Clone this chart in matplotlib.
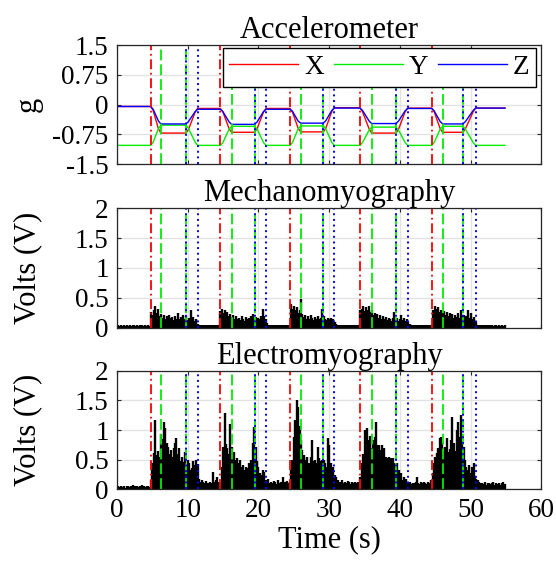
import numpy as np
import matplotlib.pyplot as plt

plt.rcParams['font.family'] = ['Liberation Serif', 'DejaVu Serif']
plt.rcParams['font.size'] = 19.5

# event markers in seconds
move_onsets = [4.76, 14.62, 24.45, 34.35, 44.48]
hold_marks = [6.22, 9.75, 16.2, 19.45, 25.96, 29.16, 36.0, 39.43, 46.03, 48.9]
return_marks = [9.75, 11.4, 19.45, 21.06, 29.16, 30.72, 39.43, 41.08, 48.9, 50.7]

# accelerometer key samples (g)
acc_t = [0.0,
         4.76, 5.11, 5.87, 6.22, 9.75, 10.1, 11.05, 11.4,
         14.62, 14.97, 15.85, 16.2, 19.45, 19.8, 20.71, 21.06,
         24.45, 24.8, 25.61, 25.96, 29.16, 29.51, 30.37, 30.72,
         34.35, 34.7, 35.65, 36.0, 39.43, 39.78, 40.73, 41.08,
         44.48, 44.83, 45.68, 46.03, 48.9, 49.25, 50.35, 50.7,
         54.84]
acc_x = [-0.05,
         -0.05, -0.15, -0.62, -0.72, -0.72, -0.63, -0.19, -0.10,
         -0.10, -0.19, -0.61, -0.70, -0.70, -0.61, -0.19, -0.10,
         -0.10, -0.19, -0.60, -0.69, -0.69, -0.60, -0.17, -0.08,
         -0.08, -0.18, -0.62, -0.72, -0.72, -0.63, -0.18, -0.09,
         -0.09, -0.18, -0.61, -0.70, -0.70, -0.61, -0.18, -0.09,
         -0.09]
acc_y = [-1.03,
         -1.03, -0.95, -0.60, -0.52, -0.52, -0.60, -0.95, -1.03,
         -1.03, -0.96, -0.62, -0.55, -0.55, -0.62, -0.96, -1.03,
         -1.03, -0.96, -0.61, -0.54, -0.54, -0.61, -0.96, -1.03,
         -1.03, -0.96, -0.64, -0.57, -0.57, -0.64, -0.96, -1.03,
         -1.03, -0.96, -0.62, -0.55, -0.55, -0.62, -0.96, -1.03,
         -1.03]
acc_z = [-0.05,
         -0.05, -0.12, -0.42, -0.49, -0.49, -0.43, -0.18, -0.12,
         -0.12, -0.18, -0.44, -0.50, -0.50, -0.44, -0.18, -0.12,
         -0.12, -0.17, -0.42, -0.47, -0.47, -0.41, -0.15, -0.09,
         -0.09, -0.15, -0.42, -0.48, -0.48, -0.42, -0.16, -0.10,
         -0.10, -0.16, -0.43, -0.49, -0.49, -0.43, -0.15, -0.09,
         -0.09]

# rectified MMG, one value every 0.2 s (V)
mmg = [
    0.03, 0.04, 0.03, 0.04, 0.03, 0.04, 0.03, 0.04, 0.03, 0.04,
    0.03, 0.04, 0.04, 0.03, 0.04, 0.03, 0.04, 0.03, 0.04, 0.03,
    0.04, 0.03, 0.04, 0.03, 0.26, 0.22, 0.30, 0.37, 0.25, 0.32,
    0.20, 0.23, 0.17, 0.21, 0.15, 0.19, 0.14, 0.22, 0.16, 0.18,
    0.13, 0.20, 0.15, 0.24, 0.14, 0.18, 0.12, 0.21, 0.15, 0.19,
    0.13, 0.17, 0.29, 0.14, 0.18, 0.11, 0.15, 0.06, 0.04, 0.05,
    0.04, 0.05, 0.04, 0.05, 0.04, 0.05, 0.04, 0.04, 0.05, 0.04,
    0.05, 0.04, 0.04, 0.28, 0.32, 0.25, 0.29, 0.22, 0.27, 0.20,
    0.23, 0.18, 0.21, 0.15, 0.19, 0.14, 0.17, 0.13, 0.20, 0.15,
    0.12, 0.18, 0.14, 0.16, 0.13, 0.19, 0.23, 0.15, 0.18, 0.12,
    0.16, 0.14, 0.20, 0.32, 0.19, 0.15, 0.08, 0.05, 0.04, 0.05,
    0.04, 0.05, 0.04, 0.04, 0.05, 0.04, 0.05, 0.04, 0.05, 0.04,
    0.05, 0.04, 0.05, 0.40, 0.32, 0.36, 0.30, 0.34, 0.25, 0.30,
    0.48, 0.23, 0.18, 0.22, 0.15, 0.19, 0.14, 0.21, 0.16, 0.13,
    0.18, 0.15, 0.20, 0.14, 0.17, 0.32, 0.19, 0.15, 0.13, 0.17,
    0.14, 0.16, 0.12, 0.15, 0.10, 0.06, 0.04, 0.05, 0.04, 0.05,
    0.04, 0.05, 0.04, 0.05, 0.04, 0.05, 0.04, 0.05, 0.04, 0.05,
    0.04, 0.05, 0.30, 0.32, 0.37, 0.28, 0.35, 0.30, 0.37, 0.26,
    0.30, 0.22, 0.25, 0.19, 0.23, 0.17, 0.21, 0.15, 0.19, 0.14,
    0.18, 0.13, 0.17, 0.15, 0.12, 0.16, 0.26, 0.14, 0.17, 0.12,
    0.15, 0.21, 0.13, 0.16, 0.11, 0.14, 0.10, 0.06, 0.04, 0.05,
    0.04, 0.05, 0.04, 0.05, 0.04, 0.05, 0.04, 0.05, 0.04, 0.05,
    0.04, 0.05, 0.04, 0.30, 0.26, 0.37, 0.31, 0.34, 0.27, 0.30,
    0.25, 0.28, 0.22, 0.26, 0.20, 0.24, 0.19, 0.23, 0.17, 0.21,
    0.18, 0.25, 0.16, 0.29, 0.19, 0.22, 0.15, 0.20, 0.29, 0.16,
    0.25, 0.14, 0.18, 0.12, 0.09, 0.05, 0.04, 0.04, 0.05, 0.04,
    0.04, 0.05, 0.04, 0.04, 0.05, 0.04, 0.03, 0.04, 0.04, 0.03,
    0.04, 0.03, 0.04, 0.03, 0.04,
]

# rectified EMG, one value every 0.2 s (V)
emg = [
    0.04, 0.05, 0.04, 0.06, 0.04, 0.05, 0.03, 0.06, 0.05, 0.04,
    0.05, 0.07, 0.04, 0.05, 0.06, 0.04, 0.05, 0.04, 0.07, 0.05,
    0.04, 0.06, 0.05, 0.04, 0.15, 0.44, 0.62, 1.17, 0.58, 0.64,
    0.55, 0.94, 0.85, 1.14, 1.03, 0.78, 0.72, 0.60, 0.66, 0.55,
    0.70, 0.78, 0.86, 0.60, 0.70, 0.48, 0.55, 0.46, 0.63, 0.38,
    0.50, 0.44, 0.33, 0.36, 0.47, 0.41, 0.49, 0.42, 0.18, 0.13,
    0.16, 0.12, 0.10, 0.14, 0.11, 0.09, 0.12, 0.10, 0.30, 0.12,
    0.15, 0.20, 0.12, 0.10, 0.38, 0.72, 1.28, 0.77, 0.69, 0.60,
    1.10, 0.72, 0.58, 0.63, 0.49, 0.52, 0.44, 0.50, 0.38, 0.41,
    0.33, 0.38, 0.36, 0.44, 0.40, 0.49, 0.78, 1.05, 0.72, 0.47,
    0.38, 0.27, 0.24, 0.33, 0.30, 0.15, 0.12, 0.18, 0.11, 0.13,
    0.10, 0.14, 0.12, 0.09, 0.15, 0.11, 0.13, 0.20, 0.10, 0.12,
    0.14, 0.10, 0.12, 0.33, 0.49, 0.88, 1.17, 1.50, 1.39, 1.06,
    0.83, 0.66, 0.58, 0.49, 0.55, 0.41, 0.44, 0.55, 0.83, 0.47,
    0.50, 0.45, 0.72, 0.52, 0.48, 0.50, 0.49, 0.45, 0.38, 0.86,
    0.75, 0.44, 0.21, 0.38, 0.25, 0.21, 0.16, 0.13, 0.12, 0.15,
    0.11, 0.13, 0.10, 0.14, 0.12, 0.09, 0.13, 0.11, 0.12, 0.10,
    0.12, 0.09, 0.20, 0.44, 0.60, 1.00, 0.94, 1.03, 0.83, 0.90,
    0.70, 0.83, 0.89, 1.14, 0.75, 0.75, 0.67, 0.75, 0.63, 0.69,
    0.55, 0.52, 0.55, 0.47, 0.52, 0.52, 0.44, 0.38, 0.44, 0.33,
    0.21, 0.27, 0.15, 0.21, 0.18, 0.13, 0.10, 0.12, 0.09, 0.11,
    0.10, 0.13, 0.21, 0.11, 0.09, 0.12, 0.10, 0.13, 0.11, 0.09,
    0.12, 0.10, 0.15, 0.27, 0.44, 0.55, 0.61, 0.70, 0.86, 0.89,
    0.80, 0.63, 0.72, 0.86, 0.63, 0.68, 0.83, 1.22, 0.78, 0.65,
    1.00, 1.14, 0.89, 1.25, 0.78, 0.72, 0.49, 0.38, 0.33, 0.41,
    0.27, 0.38, 0.44, 0.21, 0.18, 0.15, 0.12, 0.10, 0.11, 0.09,
    0.12, 0.08, 0.10, 0.11, 0.09, 0.10, 0.12, 0.08, 0.10, 0.09,
    0.11, 0.08, 0.10, 0.12, 0.09,
]

sig_t = np.arange(len(emg)) * 0.2

RED = '#ff0000'
GREEN = '#00ee00'
BLUE = '#0000ff'
EDGE = '#262626'


def style_axes(ax, show_xlabels):
    ax.set_xlim(0, 60)
    ax.set_xticks(range(0, 61, 10))
    ax.grid(True, color='#e2e2e2', linewidth=1.0)
    ax.set_axisbelow(True)
    ax.tick_params(direction='in', length=3, top=True, right=True,
                   color=EDGE, pad=6, labelbottom=show_xlabels)
    for sp in ax.spines.values():
        sp.set_color(EDGE)
        sp.set_linewidth(0.9)
    ax.yaxis.set_label_coords(-0.175, 0.5)


def draw_events(ax):
    for t in move_onsets:
        ax.axvline(t, color=RED, lw=1.3, ls=(0, (5.5, 2.0, 1.0, 2.0)))
    for t in hold_marks:
        ax.axvline(t, color=GREEN, lw=1.3, ls=(0, (6.0, 2.2)))
    for t in return_marks:
        ax.axvline(t, color=BLUE, lw=1.4, ls=(0, (1.0, 1.9)))


fig = plt.figure(figsize=(5.56, 5.64), dpi=100)
ax1 = fig.add_axes([0.2104, 0.7092, 0.7635, 0.2110])
ax2 = fig.add_axes([0.2104, 0.4190, 0.7635, 0.2117])
ax3 = fig.add_axes([0.2104, 0.1324, 0.7635, 0.2103])

# accelerometer
ax1.plot(acc_t, acc_x, color=RED, lw=1.0, label='X')
ax1.plot(acc_t, acc_y, color=GREEN, lw=1.0, label='Y')
ax1.plot(acc_t, acc_z, color=BLUE, lw=1.0, label='Z')
draw_events(ax1)
ax1.set_ylim(-1.5, 1.5)
ax1.set_yticks([-1.5, -0.75, 0, 0.75, 1.5])
ax1.set_yticklabels(['-1.5', '-0.75', '0', '0.75', '1.5'])
style_axes(ax1, False)
ax1.set_ylabel('g', fontsize=22)
ax1.set_title('Accelerometer', fontsize=22, pad=5)
leg = ax1.legend(ncol=3, loc='upper right', bbox_to_anchor=(0.988, 0.975),
                 borderaxespad=0, handlelength=2.55, handletextpad=0.22,
                 columnspacing=0.36, borderpad=0.25, fancybox=False,
                 framealpha=1, edgecolor='black')
leg.get_frame().set_linewidth(1.0)

# MMG and EMG, drawn as dense rectified spikes
for ax, sig, title in [(ax2, mmg, 'Mechanomyography'),
                       (ax3, emg, 'Electromyography')]:
    ax.vlines(sig_t, 0, sig, color='black', lw=1.7)
    draw_events(ax)
    ax.set_ylim(0, 2)
    ax.set_yticks([0, 0.5, 1, 1.5, 2])
    ax.set_yticklabels(['0', '0.5', '1', '1.5', '2'])
    style_axes(ax, ax is ax3)
    ax.set_ylabel('Volts (V)', fontsize=22)
    ax.set_title(title, fontsize=22, pad=5)

ax3.set_xlabel('Time (s)', fontsize=22, labelpad=2)

fig.savefig('out.png', dpi=100)
